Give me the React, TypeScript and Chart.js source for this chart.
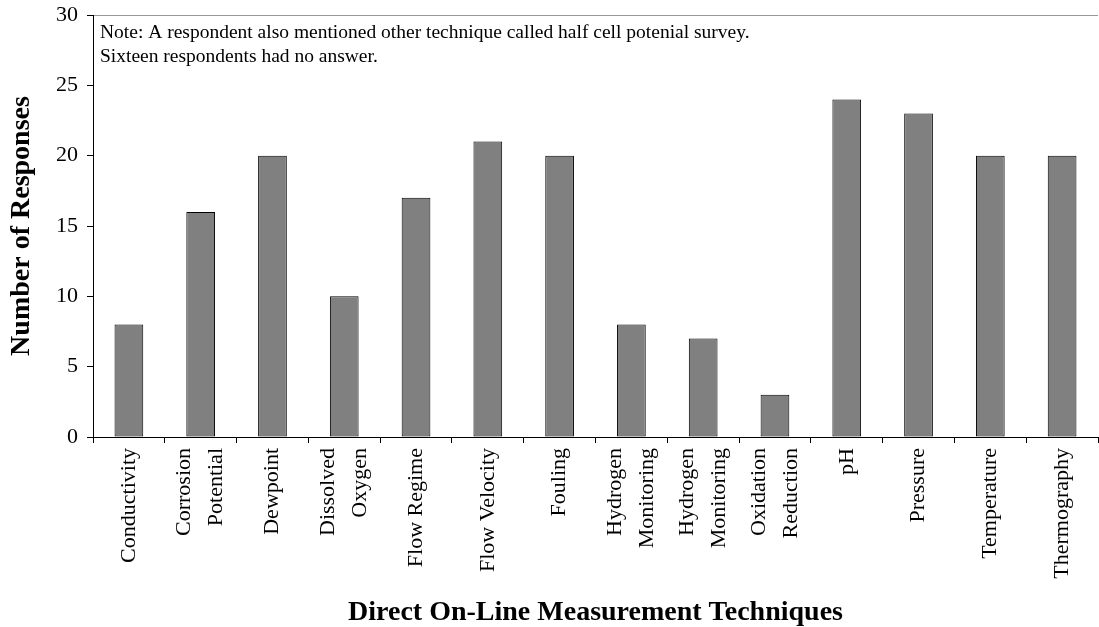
import React, { useEffect, useRef } from "react";
import { Chart, registerables } from "chart.js";

Chart.register(...registerables);

const categories: (string | string[])[] = [
  "Conductivity",
  ["Corrosion", "Potential"],
  "Dewpoint",
  ["Dissolved", "Oxygen"],
  "Flow Regime",
  "Flow Velocity",
  "Fouling",
  ["Hydrogen", "Monitoring"],
  ["Hydrogen", "Monitoring"],
  ["Oxidation", "Reduction"],
  "pH",
  "Pressure",
  "Temperature",
  "Thermography",
];
const responses = [8, 16, 20, 10, 17, 21, 20, 8, 7, 3, 24, 23, 20, 20];
const yTicks = [0, 5, 10, 15, 20, 25, 30];
const noteLines = [
  "Note: A respondent also mentioned other technique called half cell potenial survey.",
  "Sixteen respondents had no answer.",
];
const xTitle = "Direct On-Line Measurement Techniques";
const yTitle = "Number of Responses";

const SERIF = "'Liberation Serif', 'Times New Roman', serif";
const LABEL_FONT = 22;
const LINE_SPACING = 32;

const notePlugin = {
  id: "notePlugin",
  afterDraw(chart: any) {
    const { ctx, chartArea } = chart;
    ctx.save();
    ctx.font = `19.5px ${SERIF}`;
    ctx.fillStyle = "#000";
    ctx.textAlign = "left";
    ctx.textBaseline = "middle";
    noteLines.forEach((line, i) => {
      ctx.fillText(line, chartArea.left + 7, chartArea.top + 18 + i * 24);
    });
    ctx.restore();
  },
};

const xLabelPlugin = {
  id: "xLabelPlugin",
  afterDraw(chart: any) {
    const { ctx } = chart;
    const xs = chart.scales.x;
    ctx.save();
    ctx.font = `${LABEL_FONT}px ${SERIF}`;
    ctx.fillStyle = "#000";
    ctx.textAlign = "right";
    ctx.textBaseline = "middle";
    categories.forEach((cat, i) => {
      const lines = Array.isArray(cat) ? cat : [cat];
      const cx = xs.getPixelForValue(i);
      lines.forEach((line, j) => {
        const off = (j - (lines.length - 1) / 2) * LINE_SPACING;
        ctx.save();
        ctx.translate(cx + off, xs.top + 11);
        ctx.rotate(-Math.PI / 2);
        ctx.fillText(line, 0, 0);
        ctx.restore();
      });
    });
    ctx.restore();
  },
};

export default function App() {
  const ref = useRef<HTMLCanvasElement>(null);
  useEffect(() => {
    document.body.style.margin = "0";
    const chart = new Chart(ref.current!, {
      type: "bar",
      data: {
        labels: categories.map((c) => (Array.isArray(c) ? c.join(" ") : c)),
        datasets: [
          {
            data: responses,
            backgroundColor: "#808080",
            borderColor: "#000",
            borderWidth: 1,
            borderSkipped: false,
            barPercentage: 0.4,
            categoryPercentage: 1,
          },
        ],
      },
      options: {
        animation: false,
        responsive: false,
        maintainAspectRatio: false,
        layout: { padding: { top: 0, right: 1, left: 0, bottom: 0 } },
        plugins: { legend: { display: false }, tooltip: { enabled: false } },
        scales: {
          x: {
            offset: true,
            grid: {
              offset: true,
              drawOnChartArea: false,
              drawTicks: true,
              tickLength: 6,
              tickColor: "#000",
            },
            border: { color: "#000", width: 1 },
            ticks: { display: false, autoSkip: false },
            title: {
              display: true,
              text: xTitle,
              color: "#000",
              font: { family: SERIF, size: 28, weight: "bold", lineHeight: 1 },
              padding: { top: 0, bottom: 0 },
            },
            afterFit(scale: any) {
              scale.height = 627 - 437;
            },
          },
          y: {
            min: 0,
            max: 30,
            afterBuildTicks(scale: any) {
              scale.ticks = yTicks.map((v) => ({ value: v }));
            },
            grid: {
              drawOnChartArea: true,
              color: (c: any) => (c.tick && c.tick.value === 30 ? "#999" : "rgba(0,0,0,0)"),
              lineWidth: 1,
              tickLength: 6,
              tickColor: "#000",
            },
            border: { color: "#000", width: 1 },
            ticks: {
              padding: 9,
              color: "#000",
              font: { family: SERIF, size: LABEL_FONT },
            },
            title: {
              display: true,
              text: yTitle,
              color: "#000",
              font: { family: SERIF, size: 28, weight: "bold", lineHeight: 1.2 },
              padding: { top: 5, bottom: 0 },
            },
            afterFit(scale: any) {
              scale.width = 93;
              scale.paddingTop = 15;
              scale.paddingBottom = 0;
            },
          },
        },
      },
      plugins: [notePlugin, xLabelPlugin],
    });
    return () => chart.destroy();
  }, []);
  return (
    <div style={{ width: 1099, height: 627 }}>
      <canvas ref={ref} width={1099} height={627} />
    </div>
  );
}
